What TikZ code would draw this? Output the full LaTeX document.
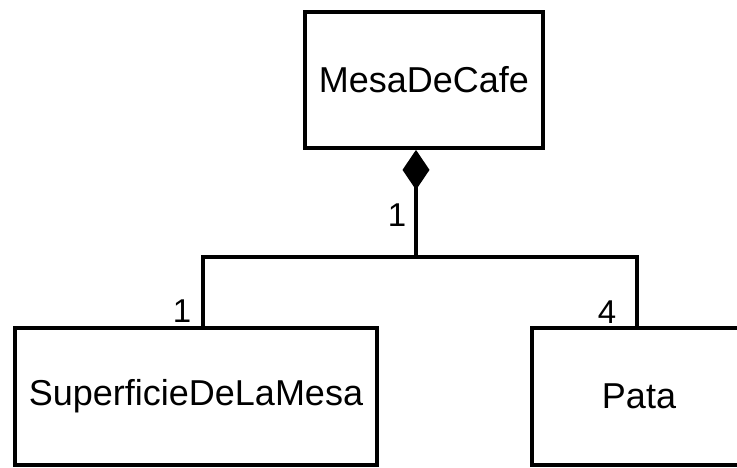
\documentclass[tikz,border=0pt]{standalone}
\usepackage{fontspec}
\setmainfont{Liberation Sans}
\usetikzlibrary{arrows.meta}
\begin{document}
\begin{tikzpicture}[x=1pt,y=-1pt,
  classbox/.style={draw=black,line width=3.8pt,fill=white,inner sep=0pt,
    font=\fontsize{36}{42}\selectfont},
  conn/.style={line width=3.2pt,draw=black},
  mult/.style={font=\fontsize{33}{38}\selectfont,inner sep=0pt}]
\useasboundingbox[fill=white] (0,0) rectangle (737,468);
\node[classbox,minimum width=238pt,minimum height=136pt] (mesa) at (424,80) {MesaDeCafe};
\node[classbox,minimum width=362pt,minimum height=137pt] (sup) at (196,396.5) {SuperficieDeLaMesa};
\node[classbox,minimum width=214pt,minimum height=137pt] (pata) at (639,396.5) {Pata};
\coordinate (j) at (416,257);
\coordinate (bl) at (203,257);
\coordinate (br) at (637,257);
\draw[conn,-{Diamond[length=40pt,width=27pt,fill=black]}] (j) -- (j |- mesa.south);
\draw[conn] (sup.north -| bl) |- (br) -- (br |- pata.north);
\node[mult] (m1) at (397,215) {1};
\node[mult] (m2) at (182,311) {1};
\node[mult] (m3) at (607,312) {4};
\end{tikzpicture}
\end{document}
